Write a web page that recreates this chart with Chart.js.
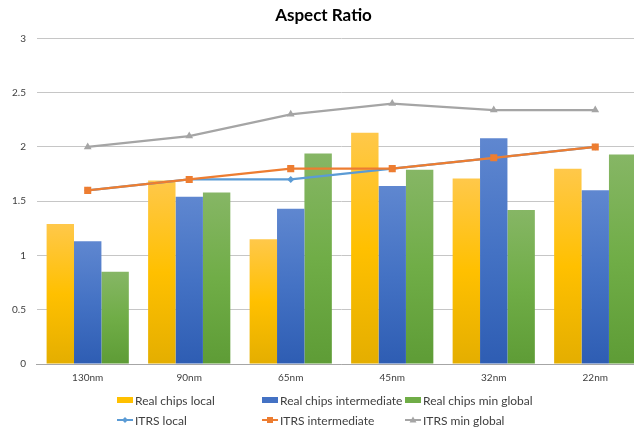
<!DOCTYPE html>
<html>
<head>
<meta charset="utf-8">
<script src="https://cdn.jsdelivr.net/npm/chart.js@4/dist/chart.umd.min.js"></script>
<style>
  html, body { margin: 0; padding: 0; background: #fff; overflow: hidden; }
  #wrap { position: relative; width: 634px; height: 429px; overflow: hidden; }
  #cv { position: absolute; left: 0; top: 0; }
  .legend { position: absolute; left: 0; top: 0; font-family: Lato, "Liberation Sans", sans-serif; font-size: 12px; color: #404040; }
  .item { position: absolute; display: flex; align-items: center; white-space: nowrap; height: 14px; }
  .sw { width: 16px; height: 6px; margin-right: 2px; }
  .ln { width: 16px; height: 10px; margin-right: 2px; }
</style>
</head>
<body>
<div id="wrap">
  <canvas id="cv" width="660" height="429"></canvas>
  <div class="legend" id="legend"></div>
</div>
<script>
// Process nodes on the x axis
const nodes = ['130nm', '90nm', '65nm', '45nm', '32nm', '22nm'];

// Measured aspect ratios of real chips
const realLocal = [1.29, 1.69, 1.15, 2.13, 1.71, 1.80];
const realIntermediate = [1.13, 1.54, 1.43, 1.64, 2.08, 1.60];
const realMinGlobal = [0.85, 1.58, 1.94, 1.79, 1.42, 1.93];

// ITRS roadmap values
const itrsLocal = [1.6, 1.7, 1.7, 1.8, 1.9, 2.0];
const itrsIntermediate = [1.6, 1.7, 1.8, 1.8, 1.9, 2.0];
const itrsMinGlobal = [2.0, 2.1, 2.3, 2.4, 2.34, 2.34];

// Y axis tick values
const yTicks = [0, 0.5, 1, 1.5, 2, 2.5, 3];

const FONT = 'Lato, "Liberation Sans", sans-serif';

// Vertical gradient for each bar, from its top down to the baseline
function barGradient(stops) {
  return function (ctx) {
    const chart = ctx.chart;
    if (!chart.chartArea || ctx.type !== 'data') return stops[1];
    const y = chart.scales.y;
    const top = y.getPixelForValue(ctx.raw);
    const base = y.getPixelForValue(0);
    if (!isFinite(top) || base - top < 1) return stops[1];
    const g = chart.ctx.createLinearGradient(0, top, 0, base);
    g.addColorStop(0, stops[0]);
    g.addColorStop(0.5, stops[1]);
    g.addColorStop(1, stops[2]);
    return g;
  };
}

const YELLOW = ['#FFC84A', '#FFC000', '#E4AE00'];
const BLUE = ['#5F87D0', '#4472C4', '#2E5DB3'];
const GREEN = ['#86B665', '#70AD47', '#5E9C36'];

const datasets = [
  { type: 'bar', label: 'Real chips local', data: realLocal, backgroundColor: barGradient(YELLOW), order: 3, legendColor: YELLOW[1] },
  { type: 'bar', label: 'Real chips intermediate', data: realIntermediate, backgroundColor: barGradient(BLUE), order: 3, legendColor: BLUE[1] },
  { type: 'bar', label: 'Real chips min global', data: realMinGlobal, backgroundColor: barGradient(GREEN), order: 3, legendColor: GREEN[1] },
  { type: 'line', label: 'ITRS local', data: itrsLocal, borderColor: '#5B9BD5', backgroundColor: '#5B9BD5',
    borderWidth: 2.25, pointStyle: 'rectRot', pointRadius: 3.5, pointBorderWidth: 0, order: 2 },
  { type: 'line', label: 'ITRS intermediate', data: itrsIntermediate, borderColor: '#ED7D31', backgroundColor: '#ED7D31',
    borderWidth: 2.25, pointStyle: 'rect', pointRadius: 5, pointBorderWidth: 0, order: 1 },
  { type: 'line', label: 'ITRS min global', data: itrsMinGlobal, borderColor: '#A5A5A5', backgroundColor: '#A5A5A5',
    borderWidth: 2.25, pointStyle: 'triangle', pointRadius: 4.5, pointBorderWidth: 0, order: 2 }
];

new Chart(document.getElementById('cv'), {
  data: { labels: nodes, datasets: datasets },
  options: {
    responsive: false,
    animation: false,
    layout: { padding: { left: 1, right: 14, top: 4, bottom: 37 } },
    datasets: { bar: { barPercentage: 1.0, categoryPercentage: 0.81 } },
    plugins: {
      legend: { display: false },
      tooltip: { enabled: false },
      title: {
        display: true, text: 'Aspect Ratio', color: '#000',
        font: { family: FONT, size: 17, weight: 'bold' },
        padding: { top: 1, bottom: 13 }
      }
    },
    scales: {
      x: {
        grid: { display: false, drawTicks: false },
        border: { color: '#A6A6A6', width: 1 },
        ticks: { color: '#404040', font: { family: FONT, size: 10 }, padding: 8 }
      },
      y: {
        min: 0, max: 3,
        afterBuildTicks: (axis) => { axis.ticks = yTicks.map(v => ({ value: v })); },
        grid: { color: '#C6C6C6', lineWidth: 1, drawTicks: false },
        border: { display: false },
        ticks: { color: '#404040', font: { family: FONT, size: 10 }, padding: 11,
                 callback: (v) => String(v) }
      }
    }
  }
});

// Legend laid out in two rows of three aligned columns
const legend = document.getElementById('legend');
const cols = [117, 262, 405];
const rows = [393, 413];
datasets.forEach((d, i) => {
  const el = document.createElement('div');
  el.className = 'item';
  el.style.left = cols[i % 3] + 'px';
  el.style.top = rows[Math.floor(i / 3)] + 'px';
  let sw;
  if (d.type === 'bar') {
    sw = '<div class="sw" style="background:' + d.legendColor + '"></div>';
  } else {
    const c = d.borderColor;
    let mark;
    if (d.pointStyle === 'rect') mark = '<rect x="5" y="2" width="6" height="6" fill="' + c + '"/>';
    else if (d.pointStyle === 'triangle') mark = '<polygon points="8,1.5 11.5,7.5 4.5,7.5" fill="' + c + '"/>';
    else mark = '<polygon points="8,2 11,5 8,8 5,5" fill="' + c + '"/>';
    sw = '<svg class="ln" viewBox="0 0 16 10"><line x1="0" y1="5" x2="16" y2="5" stroke="' + c + '" stroke-width="2"/>' + mark + '</svg>';
  }
  el.innerHTML = sw + '<span>' + d.label + '</span>';
  legend.appendChild(el);
});
</script>
</body>
</html>
